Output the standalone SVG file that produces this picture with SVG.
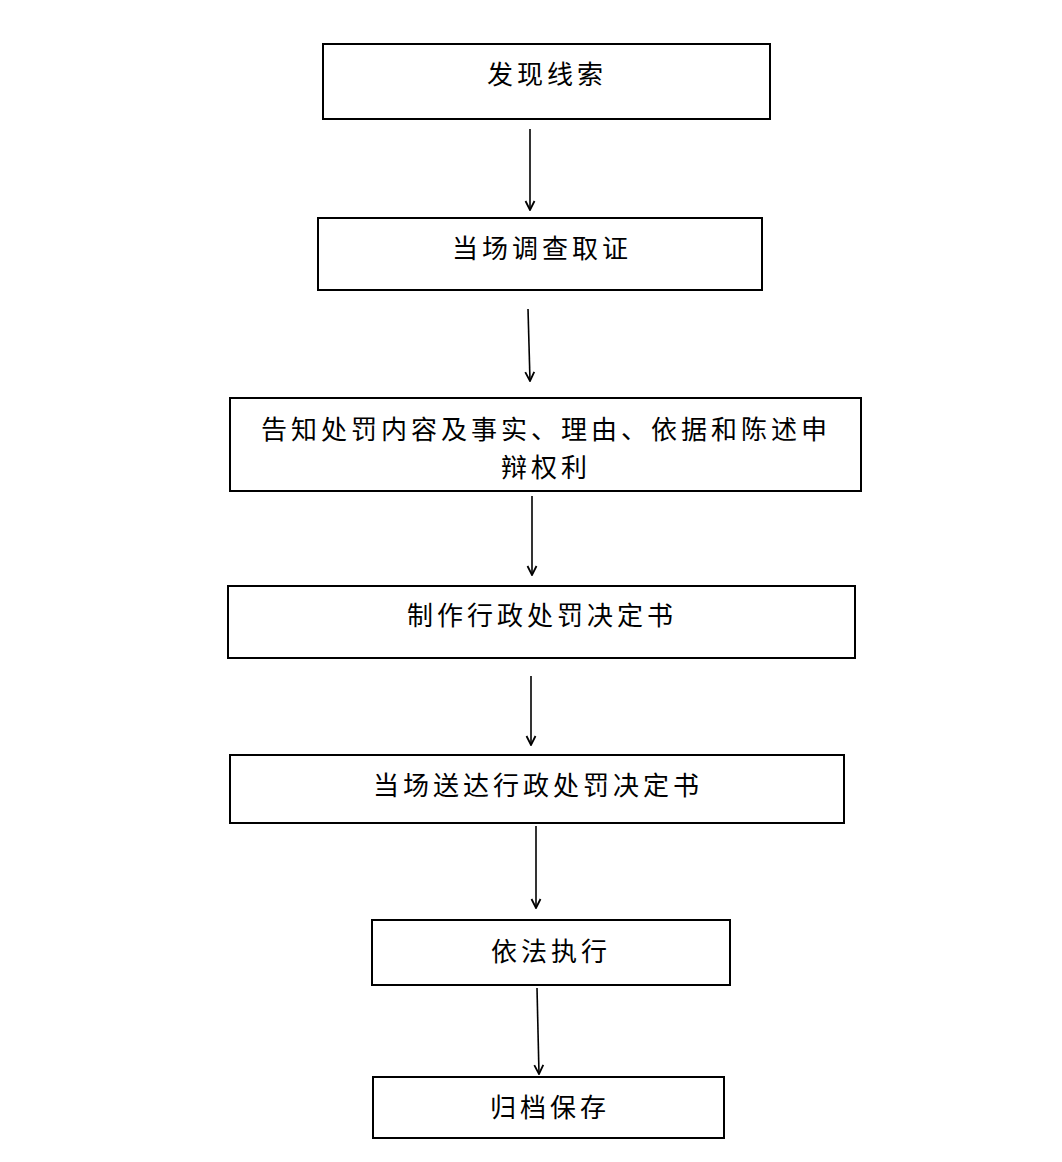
<svg xmlns="http://www.w3.org/2000/svg" width="1062" height="1162" viewBox="0 0 1062 1162">
<style>
.box{fill:#fff;stroke:#000;stroke-width:2}
.lbl{font-family:"Noto Sans CJK SC","Noto Sans CJK JP",sans-serif;font-size:26px;letter-spacing:4px;fill:#000;text-anchor:middle;dominant-baseline:central}
.con{stroke:#000;stroke-width:1.6;fill:none;marker-end:url(#ah)}
</style>
<defs>
<marker id="ah" viewBox="0 0 12 12" refX="11" refY="6" markerWidth="12" markerHeight="12" markerUnits="userSpaceOnUse" orient="auto">
<polyline points="2,1.5 11,6 2,10.5" fill="none" stroke="#000" stroke-width="1.8"/>
</marker>
</defs>
<rect width="1062" height="1162" fill="#fff"/>
<g id="connectors">
<line class="con" x1="530" y1="129" x2="530" y2="210"/>
<line class="con" x1="528" y1="309" x2="530" y2="381"/>
<line class="con" x1="532" y1="496" x2="532" y2="575"/>
<line class="con" x1="531" y1="676" x2="531" y2="745"/>
<line class="con" x1="536" y1="826" x2="536" y2="908"/>
<line class="con" x1="537" y1="988" x2="539" y2="1074"/>
</g>
<g id="n1"><rect class="box" x="323" y="44" width="447" height="75"/><text class="lbl" x="547" y="72">发现线索</text></g>
<g id="n2"><rect class="box" x="318" y="218" width="444" height="72"/><text class="lbl" x="542" y="246">当场调查取证</text></g>
<g id="n3"><rect class="box" x="230" y="398" width="631" height="93"/><text class="lbl" x="546" y="427">告知处罚内容及事实、理由、依据和陈述申</text><text class="lbl" x="546" y="465">辩权利</text></g>
<g id="n4"><rect class="box" x="228" y="586" width="627" height="72"/><text class="lbl" x="542" y="613">制作行政处罚决定书</text></g>
<g id="n5"><rect class="box" x="230" y="755" width="614" height="68"/><text class="lbl" x="538" y="783">当场送达行政处罚决定书</text></g>
<g id="n6"><rect class="box" x="372" y="920" width="358" height="65"/><text class="lbl" x="551" y="949">依法执行</text></g>
<g id="n7"><rect class="box" x="373" y="1077" width="351" height="61"/><text class="lbl" x="550" y="1105">归档保存</text></g>
</svg>
